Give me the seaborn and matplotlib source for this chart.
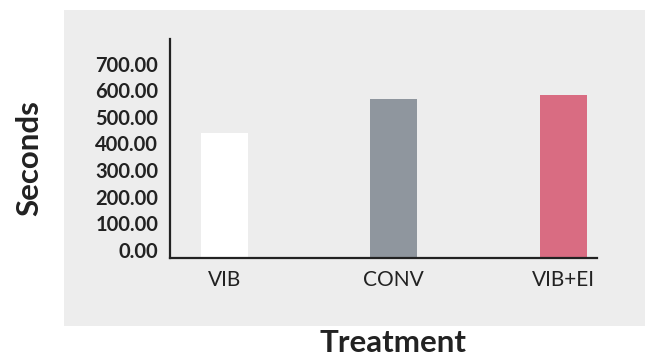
import matplotlib
matplotlib.use("Agg")
import matplotlib.pyplot as plt
from matplotlib.patches import Rectangle
import seaborn as sns
import pandas as pd

# data
treatments = ["VIB", "CONV", "VIB+EI"]
seconds = [468, 597, 612]
bar_colors = ["#ffffff", "#8f969e", "#d96c82"]
y_ticks = [0, 100, 200, 300, 400, 500, 600, 700]

sns.set_style("white")
plt.rcParams["font.family"] = ["Lato", "DejaVu Sans"]

df = pd.DataFrame({"Treatment": treatments, "Seconds": seconds})

fig = plt.figure(figsize=(6.45, 3.58), dpi=100)
fig.patch.set_facecolor("white")

# grey panel behind the plot
panel = Rectangle((64 / 645, 1 - 326 / 358), 581 / 645, 316 / 358,
                  transform=fig.transFigure, facecolor="#ededed",
                  edgecolor="none", zorder=-10)
fig.add_artist(panel)

ax = fig.add_axes([170 / 645, 1 - 257.7 / 358, 427 / 645, (257.7 - 39) / 358])
ax.set_facecolor("none")
ax.set_zorder(5)

sns.barplot(data=df, x="Treatment", y="Seconds", hue="Treatment",
            palette=bar_colors, width=0.277, legend=False, ax=ax,
            saturation=1, linewidth=0)

ax.set_xlim(-0.32, 2.2)
ax.set_ylim(0, 823)
ax.set_yticks(y_ticks)
ax.set_yticklabels([f"{v:.2f}" for v in y_ticks], fontweight="bold",
                   fontsize=14.5, color="#222222", va="baseline")
ax.tick_params(axis="x", labelsize=15, colors="#222222", length=0, pad=8.5)
ax.tick_params(axis="y", length=0, pad=8.5)

for side in ["top", "right"]:
    ax.spines[side].set_visible(False)
for side in ["left", "bottom"]:
    ax.spines[side].set_color("#222222")
    ax.spines[side].set_linewidth(1.6)

ax.set_xlabel("")
ax.set_ylabel("")
fig.text(29 / 645, 1 - 158 / 358, "Seconds", rotation=90, fontsize=22.5,
         fontweight="bold", color="#222222", ha="center", va="center")
fig.text(393 / 645, 1 - 343 / 358, "Treatment", fontsize=22.5,
         fontweight="bold", color="#222222", ha="center", va="center")

fig.savefig("out.png", dpi=100)
